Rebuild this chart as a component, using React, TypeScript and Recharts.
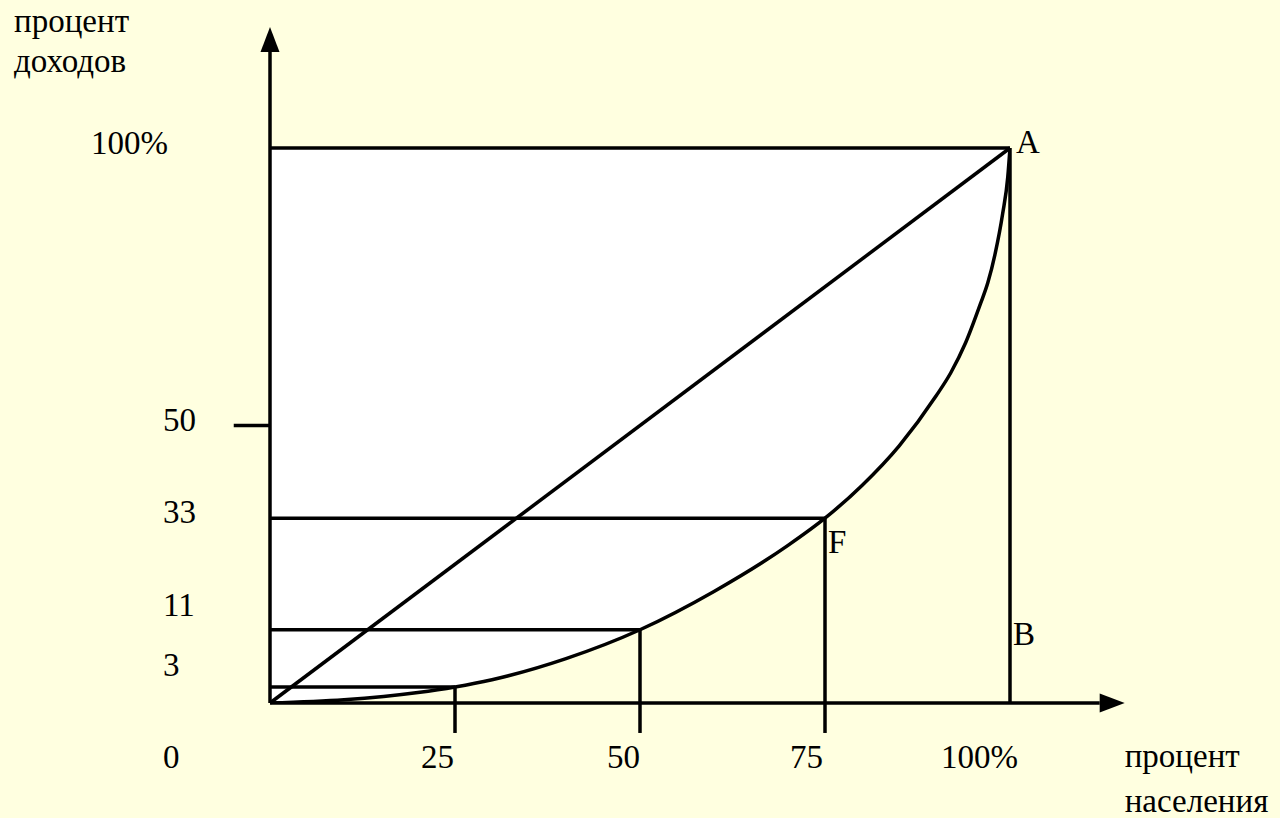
import React from 'react';
import { ComposedChart, XAxis, YAxis, Area, Line, ReferenceLine, ReferenceDot } from 'recharts';

const BG = '#FFFFE0';
const INK = '#000000';
const FONT = '"Liberation Serif", "Times New Roman", Times, serif';
const FS = 33;
const SW = 3.5;

// Lorenz curve: cumulative share of population (%) vs cumulative share of income (%)
const populationShare = [0, 10, 20, 25, 30, 40, 50, 60, 70, 75, 80, 85, 90, 92, 94, 96, 97, 98, 99, 99.7, 100];
const incomeShare = [0, 0.6, 1.9, 2.9, 4.2, 8.0, 13.2, 20.1, 28.4, 33.3, 39.2, 46.3, 55.3, 59.5, 64.9, 71.9, 75.7, 81.0, 88.1, 94.8, 100];

// Marked points on the curve (25, 50, 75 % of population)
const markerPopulation = [25, 50, 75];
const markerIncome = [2.9, 13.2, 33.3];

// Tick labels
const xTickValues = [25, 50, 75, 100];
const xTickLabels = ['25', '50', '75', '100%'];
const yTickValues = [100, 50, 33, 11, 3, 0];
const yTickLabels = ['100%', '50', '33', '11', '3', '0'];

// Axis extents (arrow tips) and full scale
const FULL = 100;
const X_EXTENT = 115.5;
const Y_EXTENT = 121.8;
const DROP = -5.4; // vertical marker lines extend slightly below the axis
const TICK50_LEFT = -4.9;

const lorenz = populationShare.map((x, i) => ({ x, y: incomeShare[i] }));

// pixel offsets for labels (layout only)
const yLabelOffset: Record<string, [number, number]> = {
  '100%': [-179, 6],
  '50': [-107, 5],
  '33': [-107, 3],
  '11': [-107, -26],
  '3': [-107, -10],
  '0': [-107, 65],
};
const xLabelDx: Record<string, number> = { '25': -1, '50': 0, '75': -2, '100%': 8 };

const ArrowShape = (props: any) => {
  const { x1, y1, x2, y2 } = props;
  const dx = x2 - x1;
  const dy = y2 - y1;
  const len = Math.hypot(dx, dy) || 1;
  const ux = dx / len;
  const uy = dy / len;
  const head = 25;
  const half = 9.5;
  const bx = x2 - ux * head;
  const by = y2 - uy * head;
  return (
    <g>
      <line x1={x1} y1={y1} x2={bx} y2={by} stroke={INK} strokeWidth={SW} />
      <polygon
        points={`${x2},${y2} ${bx - uy * half},${by + ux * half} ${bx + uy * half},${by - ux * half}`}
        fill={INK}
      />
    </g>
  );
};

const textShape = (text: string, dx: number, dy: number, anchor: 'start' | 'end' | 'middle' = 'start') =>
  (props: any) => (
    <text
      x={props.cx + dx}
      y={props.cy + dy}
      textAnchor={anchor}
      fontFamily={FONT}
      fontSize={FS}
      fill={INK}
    >
      {text}
    </text>
  );

const seg = (key: string, a: [number, number], b: [number, number], sw = SW) => (
  <ReferenceLine
    key={key}
    segment={[{ x: a[0], y: a[1] }, { x: b[0], y: b[1] }]}
    stroke={INK}
    strokeWidth={sw}
    ifOverflow="visible"
  />
);

export default function App() {
  return (
    <div style={{ position: 'absolute', left: 0, top: 0, width: 1280, height: 818, background: BG }}>
      <ComposedChart
        width={1280}
        height={818}
        data={lorenz}
        margin={{ top: 148, right: 270, bottom: 115, left: 270 }}
      >
        <XAxis type="number" dataKey="x" domain={[0, FULL]} allowDataOverflow hide />
        <YAxis type="number" domain={[0, FULL]} allowDataOverflow hide />

        {/* white region above the Lorenz curve inside the square */}
        <Area
          type="monotone"
          dataKey={(d: any) => [d.y, FULL]}
          fill="#FFFFFF"
          fillOpacity={1}
          stroke="none"
          isAnimationActive={false}
          activeDot={false}
        />

        {/* box edges, equality line */}
        {seg('top', [0, FULL], [FULL, FULL])}
        {seg('right', [FULL, 0], [FULL, FULL])}
        {seg('diag', [0, 0], [FULL, FULL])}
        {seg('tick50', [TICK50_LEFT, 50], [0, 50])}

        {/* marker lines */}
        {markerPopulation.map((x, i) => seg(`h${i}`, [0, markerIncome[i]], [x, markerIncome[i]]))}
        {markerPopulation.map((x, i) => seg(`v${i}`, [x, markerIncome[i]], [x, DROP]))}

        {/* axes with arrows */}
        <ReferenceLine
          segment={[{ x: 0, y: 0 }, { x: 0, y: Y_EXTENT }]}
          ifOverflow="visible"
          shape={ArrowShape}
        />
        <ReferenceLine
          segment={[{ x: 0, y: 0 }, { x: X_EXTENT, y: 0 }]}
          ifOverflow="visible"
          shape={ArrowShape}
        />

        {/* Lorenz curve */}
        <Line
          type="monotone"
          dataKey="y"
          stroke={INK}
          strokeWidth={SW}
          dot={false}
          activeDot={false}
          isAnimationActive={false}
        />

        {/* y tick labels */}
        {yTickValues.map((v, i) => {
          const lab = yTickLabels[i];
          const [dx, dy] = yLabelOffset[lab];
          return (
            <ReferenceDot key={`yl${i}`} x={0} y={v} r={0} ifOverflow="visible" shape={textShape(lab, dx, dy)} />
          );
        })}

        {/* x tick labels */}
        {xTickValues.map((v, i) => {
          const lab = xTickLabels[i];
          return (
            <ReferenceDot
              key={`xl${i}`}
              x={v}
              y={0}
              r={0}
              ifOverflow="visible"
              shape={textShape(lab, xLabelDx[lab], 65, 'end')}
            />
          );
        })}

        {/* point letters */}
        <ReferenceDot x={FULL} y={FULL} r={0} ifOverflow="visible" shape={textShape('A', 6, 5)} />
        <ReferenceDot x={FULL} y={0} r={0} ifOverflow="visible" shape={textShape('B', 3, -58)} />
        <ReferenceDot
          x={markerPopulation[2]}
          y={markerIncome[2]}
          r={0}
          ifOverflow="visible"
          shape={textShape('F', 3, 35)}
        />

        {/* axis titles */}
        <ReferenceDot x={0} y={Y_EXTENT} r={0} ifOverflow="visible" shape={textShape('процент', -256, 5)} />
        <ReferenceDot x={0} y={Y_EXTENT} r={0} ifOverflow="visible" shape={textShape('доходов', -256, 45)} />
        <ReferenceDot x={X_EXTENT} y={0} r={0} ifOverflow="visible" shape={textShape('процент', 0, 64)} />
        <ReferenceDot x={X_EXTENT} y={0} r={0} ifOverflow="visible" shape={textShape('населения', 0, 109)} />
      </ComposedChart>
    </div>
  );
}
